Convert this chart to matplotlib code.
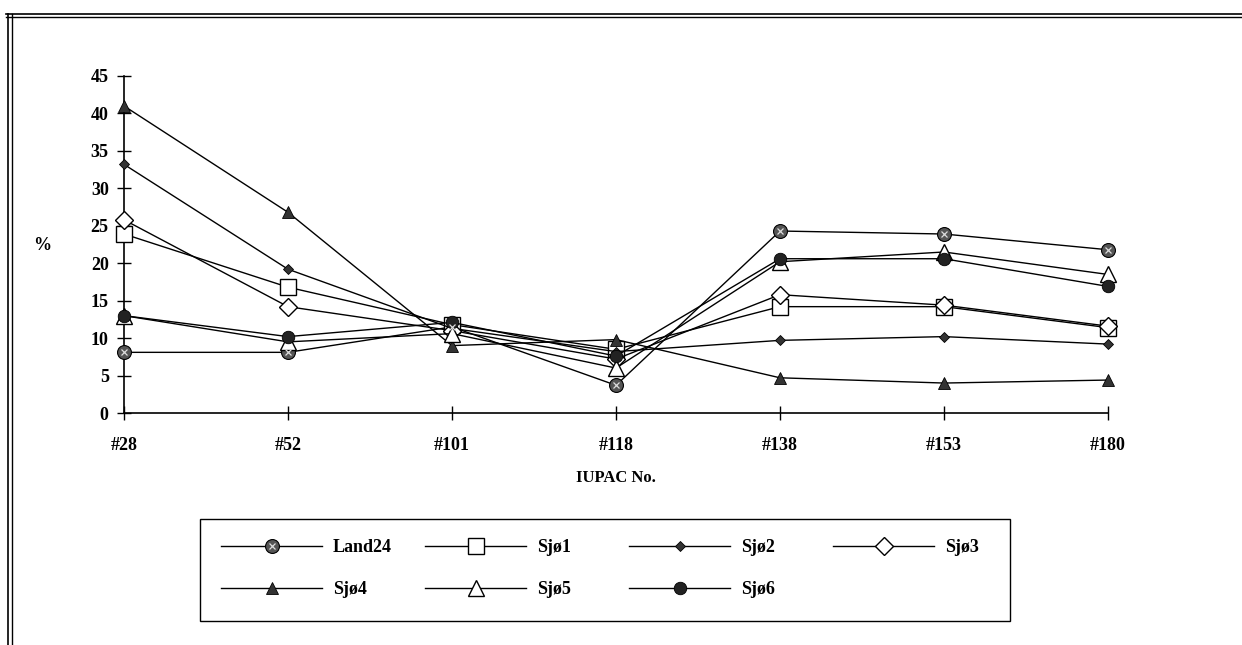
import matplotlib
matplotlib.use("Agg")
import matplotlib.pyplot as plt
from matplotlib.lines import Line2D
from matplotlib.patches import Rectangle
from matplotlib.legend_handler import HandlerTuple

categories = ["#28", "#52", "#101", "#118", "#138", "#153", "#180"]
land24 = [8.1, 8.1, 11.5, 3.7, 24.3, 23.9, 21.8]
sjo1 = [23.9, 16.8, 11.8, 8.5, 14.2, 14.2, 11.4]
sjo2 = [33.2, 19.2, 11.3, 8.2, 9.7, 10.2, 9.2]
sjo3 = [25.8, 14.2, 11.0, 7.2, 15.8, 14.4, 11.6]
sjo4 = [41.0, 26.8, 9.0, 9.8, 4.7, 4.0, 4.4]
sjo5 = [13.0, 9.5, 10.6, 6.0, 20.2, 21.5, 18.5]
sjo6 = [13.0, 10.2, 12.1, 7.6, 20.6, 20.6, 16.9]
y_ticks = [0, 5, 10, 15, 20, 25, 30, 35, 40, 45]
series_names = ["Land24", "Sjø1", "Sjø2", "Sjø3", "Sjø4", "Sjø5", "Sjø6"]

W, H = 1242, 645
fig = plt.figure(figsize=(W / 100, H / 100), dpi=100)
fig.patch.set_facecolor("white")

serif = ["Liberation Serif", "DejaVu Serif"]

ax = fig.add_axes([124 / W, 1 - 413 / H, (1108 - 124) / W, (413 - 76) / H])
x = list(range(len(categories)))

lw = 1.0
dark = "#333333"

kw = dict(clip_on=False)
h_land_o, = ax.plot(x, land24, color="black", lw=lw, marker="o", ms=10,
                    mfc="#555555", mec="black", mew=0.8, zorder=3, **kw)
h_land_x, = ax.plot(x, land24, ls="none", marker="x", ms=5, mec="#dddddd",
                    mew=0.9, zorder=4, **kw)
h1, = ax.plot(x, sjo1, color="black", lw=lw, marker="s", ms=11,
              mfc="white", mec="black", mew=1.0, zorder=3, **kw)
h2, = ax.plot(x, sjo2, color="black", lw=lw, marker="D", ms=5,
              mfc=dark, mec="black", mew=0.6, zorder=3, **kw)
h3, = ax.plot(x, sjo3, color="black", lw=lw, marker="D", ms=9,
              mfc="white", mec="black", mew=1.0, zorder=3, **kw)
h4, = ax.plot(x, sjo4, color="black", lw=lw, marker="^", ms=8,
              mfc=dark, mec="black", mew=0.6, zorder=3, **kw)
h5, = ax.plot(x, sjo5, color="black", lw=lw, marker="^", ms=12,
              mfc="white", mec="black", mew=1.0, zorder=3, **kw)
h6, = ax.plot(x, sjo6, color="black", lw=lw, marker="o", ms=9,
              mfc="#222222", mec="black", mew=0.6, zorder=3, **kw)

ax.set_xlim(0, len(categories) - 1)
ax.set_ylim(0, 45)
ax.set_yticks(y_ticks)
ax.set_xticks(x)
ax.set_xticklabels(categories)
for sp in ["top", "right"]:
    ax.spines[sp].set_visible(False)
for sp in ["left", "bottom"]:
    ax.spines[sp].set_linewidth(1.2)
ax.tick_params(axis="both", direction="inout", length=10, width=1.0,
               labelsize=13)
ax.tick_params(axis="x", pad=12)
ax.tick_params(axis="y", pad=6)
for lab in ax.get_xticklabels() + ax.get_yticklabels():
    lab.set_fontfamily(serif)
    lab.set_fontweight("bold")
ax.set_xlabel("IUPAC No.", fontsize=12, fontweight="bold", family=serif,
              labelpad=12)
ax.set_ylabel("%", fontsize=13, fontweight="bold", family=serif,
              rotation=0, va="center", ha="center")
ax.yaxis.set_label_coords((42 - 124) / (1108 - 124), (413 - 245) / (413 - 76))

# legend: one entry per slot, uniform column grid like the original
handles = [(h_land_o, h_land_x), h1, h2, h3, h4, h5, h6]
col_x = [221, 425, 629, 833]
row_y = [548, 590]
for i, (hd, name) in enumerate(zip(handles, series_names)):
    r, c = divmod(i, 4)
    lg = fig.legend([hd], [name], loc="center left",
                    bbox_to_anchor=(col_x[c] / W, 1 - row_y[r] / H),
                    frameon=False, borderpad=0, borderaxespad=0,
                    handlelength=5.6, handletextpad=0.6,
                    handler_map={tuple: HandlerTuple(ndivide=1)},
                    prop={"family": serif, "weight": "bold", "size": 13})
fig.add_artist(Rectangle((200 / W, 1 - 621 / H), 810 / W, 102 / H,
                         transform=fig.transFigure, fill=False,
                         edgecolor="black", lw=1.0))

# outer double frame (top and left)
for yy in [13.5, 17]:
    fig.add_artist(Line2D([6 / W, 1], [1 - yy / H, 1 - yy / H],
                          color="black", lw=1.2 if yy < 15 else 1.0))
for xx in [7.5, 11.5]:
    fig.add_artist(Line2D([xx / W, xx / W], [0, 1 - 13.5 / H],
                          color="black", lw=1.2 if xx < 9 else 1.0))

fig.savefig("out.png", dpi=100, facecolor="white")
